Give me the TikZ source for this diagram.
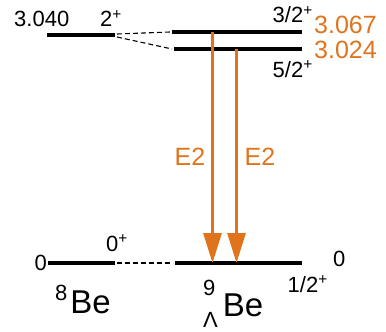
\documentclass[tikz,border=0pt]{standalone}
\usepackage{fontspec}
\setmainfont{Liberation Sans}
\usetikzlibrary{arrows.meta, positioning}
\definecolor{eorange}{RGB}{224,116,28}
\newcommand{\spn}[1]{\textsuperscript{#1}}
\newcommand{\scr}[1]{{\fontsize{22}{22}\selectfont #1}}

\begin{document}
\begin{tikzpicture}[x=1pt, y=-1pt,
    lev/.style={line width=3.6pt},
    lnk/.style={line width=1.1pt, dash pattern=on 5pt off 3pt},
    tr/.style={eorange, line width=3pt, -{Triangle[length=30pt, width=18pt]}},
    lbl/.style={font=\fontsize{22}{26}\selectfont, inner sep=0pt},
    en/.style={font=\fontsize{25}{29}\selectfont, inner sep=0pt, text=eorange},
    nuc/.style={font=\fontsize{33}{38}\selectfont, inner sep=0pt}]
  \useasboundingbox (0,0) rectangle (386,332);
  % 8Be levels
  \coordinate (b2l) at (47,35);  \coordinate (b2r) at (115,35);
  \coordinate (b0l) at (48,263); \coordinate (b0r) at (115,263);
  % 9LBe levels
  \coordinate (h3l) at (172,32); \coordinate (h3r) at (302,32);
  \coordinate (h5l) at (174,49); \coordinate (h5r) at (302,49);
  \coordinate (h1l) at (175,263); \coordinate (h1r) at (302,263);
  \draw[lev] (b2l) -- (b2r);
  \draw[lev] (b0l) -- (b0r);
  \draw[lev] (h3l) -- (h3r);
  \draw[lev] (h5l) -- (h5r);
  \draw[lev] (h1l) -- (h1r);
  % correspondence
  \draw[lnk] ([xshift=2pt, yshift=1pt]b2r) -- ([xshift=-2pt]h3l);
  \draw[lnk] ([xshift=2pt, yshift=-2pt]b2r) -- ([xshift=-2pt]h5l);
  \draw[lnk] ([xshift=2pt]b0r) -- ([xshift=-2pt]h1l);
  % E2 transitions
  \coordinate (t1s) at (212.5,32);  \coordinate (t1e) at (212.5,263);
  \coordinate (t2s) at (236.5,49);  \coordinate (t2e) at (236.5,263);
  \coordinate (mid) at (0,157);
  \draw[tr] (t1s) -- (t1e);
  \draw[tr] (t2s) -- (t2e);
  \node[en, anchor=east] (e2a) at ([xshift=-7pt]t1s |- mid) {E2};
  \node[en, anchor=west] (e2b) at ([xshift=8pt]t2s |- mid) {E2};
  % labels
  \node[lbl, anchor=base west] (x8a) at (14,27) {3.040};
  \node[lbl, anchor=base west] (j8a) at (100,27) {2\spn{+}};
  \node[lbl, anchor=base east] (j0a) at (128,251) {0\spn{+}};
  \node[lbl, anchor=base east] (x0a) at (47,270) {0};
  \node[lbl, anchor=base east] (j3) at (313,23) {3/2\spn{+}};
  \node[lbl, anchor=base east] (j5) at (313,77) {5/2\spn{+}};
  \node[lbl, anchor=base east] (j1) at (328,292) {1/2\spn{+}};
  \node[lbl, anchor=base west] (x0b) at (333,266) {0};
  \node[en, anchor=base west] (x3) at (314,33) {3.067};
  \node[en, anchor=base west] (x5) at (314,58) {3.024};
  \node[nuc, anchor=base west] (be8) at (55,313)
    {\raisebox{13pt}{\scr{8}}\kern3pt Be};
  \node[nuc, anchor=base west] (be9) at (203,316)
    {\makebox[0pt][l]{\raisebox{21pt}{\scr{9}}}\raisebox{-11pt}{\scr{Λ}}\kern5pt Be};
\end{tikzpicture}
\end{document}
